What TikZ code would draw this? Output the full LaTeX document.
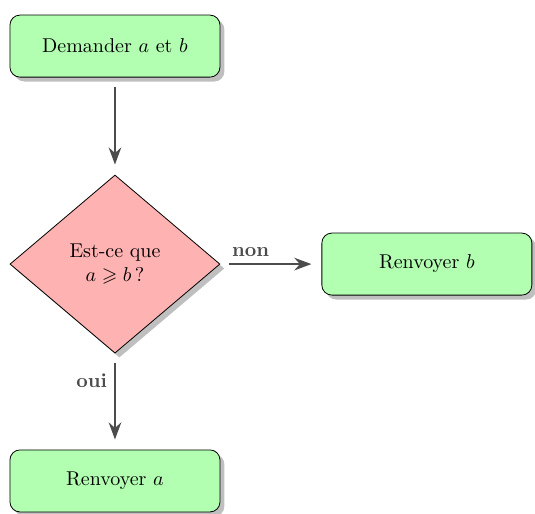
\documentclass[tikz,border=0pt]{standalone}
\usepackage{amssymb}
\usetikzlibrary{shapes.geometric, arrows.meta, shadows, positioning}
\tikzstyle{etape} = [rectangle, rounded corners=5pt, minimum width=3.69cm, minimum height=1.09cm,
    text centered, draw=black, fill=green!30, drop shadow={shadow xshift=2.2pt, shadow yshift=-2.2pt}]
\tikzstyle{test} = [diamond, aspect=1.18, minimum width=3.69cm, minimum height=3.13cm,
    align=center, draw=black, fill=red!30, inner sep=1pt,
    drop shadow={shadow xshift=2.2pt, shadow yshift=-2.2pt}]
\tikzstyle{fleche} = [line width=1.3pt, draw=black!70, -{Stealth[length=3mm, width=2.2mm]},
    shorten <=4.5pt, shorten >=5pt]
\tikzstyle{lbl} = [font=\bfseries, text=black!70]

\begin{document}
\begin{tikzpicture}
\useasboundingbox (0,0) rectangle (9.40,-9.03);
% --- noeuds ---
\node (demande) [etape] at (2.02,-0.81) {Demander $a$ et $b$};
\node (compare) [test] at (2.02,-4.64) {Est-ce que\\ $a \geqslant b$\,?};
\node (renvb) [etape] at (7.50,-4.64) {Renvoyer $b$};
\node (renva) [etape] at (2.02,-8.45) {Renvoyer $a$};

% --- fleches ---
\draw[fleche] (demande) -- (compare);
\draw[fleche] (compare) -- node[lbl,pos=0.3,above]{non} (renvb);
\draw[fleche] (compare) -- node[lbl,pos=0.28,left]{oui} (renva);
\end{tikzpicture}
\end{document}
